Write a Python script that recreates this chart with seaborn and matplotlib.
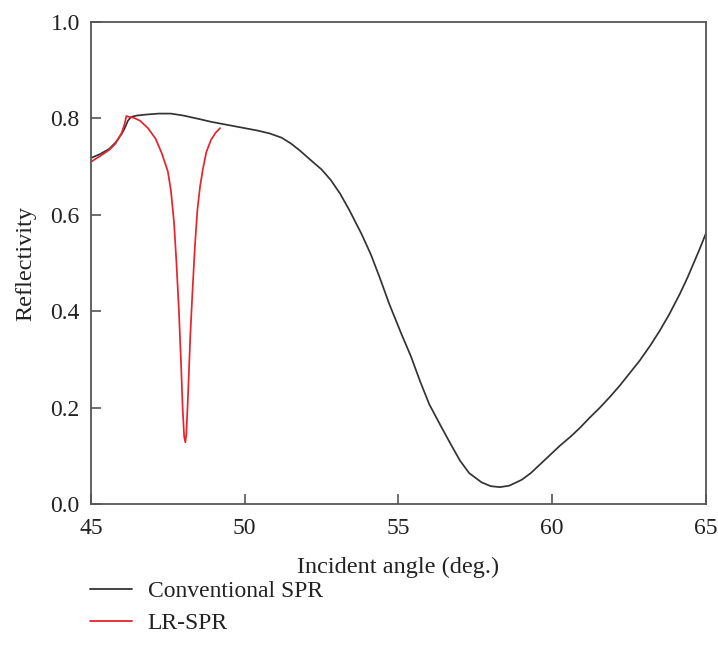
import pandas as pd
import matplotlib.pyplot as plt
import seaborn as sns

# ── data ────────────────────────────────────────────────────────────────────
conv_angle = [45.0, 45.3, 45.6, 45.8, 46.0, 46.1, 46.2, 46.3, 46.5, 46.8, 47.2,
              47.6, 48.0, 48.5, 48.9, 49.4, 49.9, 50.4, 50.8, 51.2, 51.5, 51.8,
              52.1, 52.5, 52.8, 53.1, 53.4, 53.8, 54.1, 54.4, 54.7, 55.1, 55.4,
              55.7, 56.0, 56.4, 56.7, 57.0, 57.3, 57.7, 58.0, 58.3, 58.6, 59.0,
              59.3, 59.6, 60.0, 60.25, 60.6, 60.9, 61.2, 61.55, 61.9, 62.2,
              62.5, 62.85, 63.2, 63.5, 63.8, 64.15, 64.4, 64.6, 64.8, 65.0]
conv_refl = [0.718, 0.726, 0.737, 0.750, 0.768, 0.780, 0.795, 0.803, 0.806, 0.808,
             0.810, 0.810, 0.806, 0.799, 0.793, 0.787, 0.781, 0.775, 0.769, 0.760,
             0.748, 0.733, 0.716, 0.694, 0.672, 0.644, 0.610, 0.560, 0.518, 0.468,
             0.415, 0.352, 0.307, 0.255, 0.207, 0.159, 0.124, 0.090, 0.064, 0.045,
             0.037, 0.035, 0.038, 0.050, 0.064, 0.082, 0.106, 0.121, 0.140, 0.158,
             0.178, 0.200, 0.224, 0.246, 0.270, 0.298, 0.330, 0.360, 0.393, 0.436,
             0.470, 0.500, 0.530, 0.562]

lr_angle = [45.0, 45.3, 45.6, 45.8, 46.0, 46.1, 46.15, 46.25, 46.4, 46.6, 46.85,
            47.1, 47.3, 47.5, 47.6, 47.7, 47.78, 47.86, 47.93, 47.98, 48.03,
            48.07, 48.1, 48.14, 48.18, 48.23, 48.3, 48.38, 48.46, 48.55, 48.64,
            48.75, 48.9, 49.05, 49.2]
lr_refl = [0.710, 0.722, 0.735, 0.748, 0.770, 0.790, 0.805, 0.803, 0.801, 0.795,
           0.780, 0.758, 0.728, 0.690, 0.650, 0.585, 0.500, 0.400, 0.290, 0.200,
           0.140, 0.128, 0.145, 0.200, 0.265, 0.350, 0.440, 0.535, 0.610, 0.660,
           0.695, 0.730, 0.755, 0.770, 0.780]

df = pd.concat([
    pd.DataFrame({"angle": conv_angle, "refl": conv_refl, "curve": "Conventional SPR"}),
    pd.DataFrame({"angle": lr_angle, "refl": lr_refl, "curve": "LR-SPR"}),
], ignore_index=True)

PALETTE = {"Conventional SPR": "#333333", "LR-SPR": "#e8232b"}

sns.set_theme(style="ticks")
plt.rcParams["font.family"] = ["Liberation Serif", "DejaVu Serif"]

fig = plt.figure(figsize=(7.18, 6.59), dpi=100)
ax = fig.add_axes([0.1267, 0.2352, 0.8566, 0.7314])

sns.lineplot(data=df, x="angle", y="refl", hue="curve", palette=PALETTE,
             sort=False, linewidth=1.25, ax=ax, legend=False)

ax.set_xlim(45, 65)
ax.set_ylim(0, 1.0)
ax.set_xticks([45, 50, 55, 60, 65])
ax.set_yticks([0.0, 0.2, 0.4, 0.6, 0.8, 1.0])
ax.set_yticklabels([f"{v:.1f}" for v in [0.0, 0.2, 0.4, 0.6, 0.8, 1.0]])
ax.tick_params(direction="in", length=7, width=1.2, color="#555555",
               labelsize=17, labelcolor="#222222")
ax.tick_params(axis="x", pad=10)
ax.tick_params(axis="y", pad=8)
for sp in ax.spines.values():
    sp.set_color("#555555")
    sp.set_linewidth(1.3)
ax.set_xlabel("Incident angle (deg.)", fontsize=17.5, labelpad=13, color="#222222")
ax.set_ylabel("Reflectivity", fontsize=17.5, labelpad=10, color="#222222")

handles = [plt.Line2D([], [], color=PALETTE[k], linewidth=1.3) for k in PALETTE]
fig.legend(handles, list(PALETTE), loc="upper left",
           bbox_to_anchor=(0.125, 0.119), frameon=False, fontsize=17,
           handlelength=1.78, handletextpad=0.68, labelspacing=0.43,
           borderpad=0, borderaxespad=0, labelcolor="#222222")

plt.savefig("out.png", dpi=100)
plt.close()
